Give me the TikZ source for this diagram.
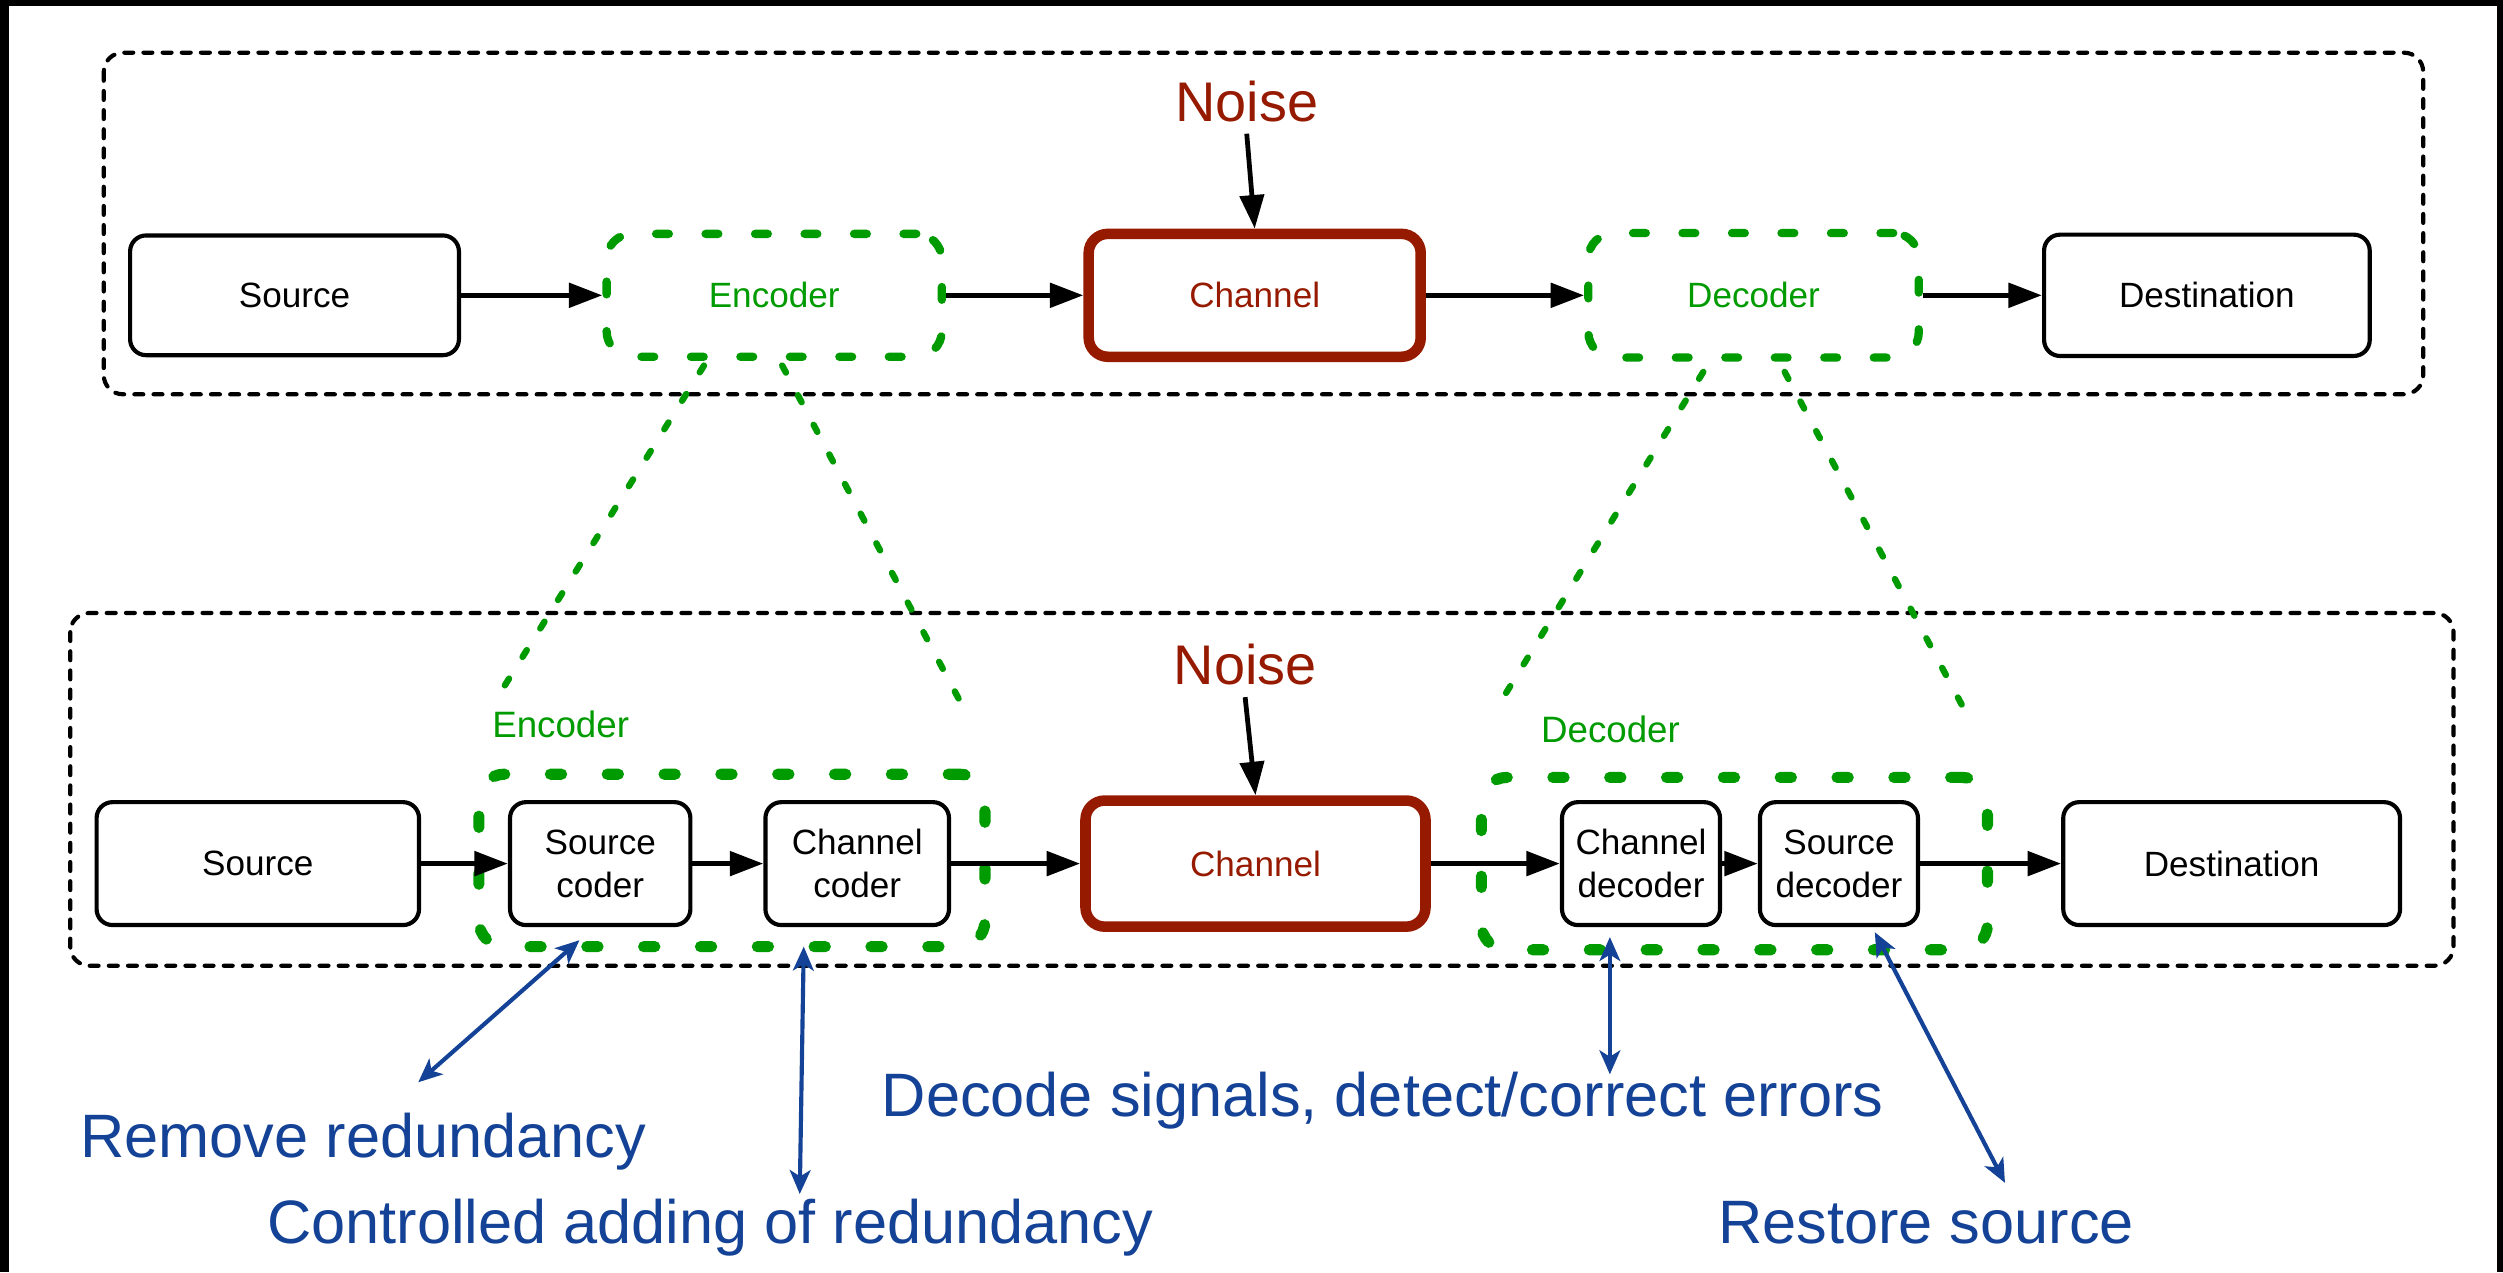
\documentclass[tikz,border=0pt]{standalone}
\usepackage{fontspec}
\setmainfont{Liberation Sans}
\usetikzlibrary{arrows.meta}
\definecolor{cgreen}{RGB}{0,155,0}
\definecolor{cred}{RGB}{150,26,0}
\definecolor{cblue}{RGB}{20,66,150}
\begin{document}
\begin{tikzpicture}[x=0.5pt,y=-0.5pt,
  box/.style={draw=black,line width=1.3pt,rounded corners=5pt,fill=white,inner sep=0pt,align=center,font=\fontsize{11}{13.5}\selectfont},
  chan/.style={draw=cred,line width=3.3pt,rounded corners=6pt,fill=white,inner sep=0pt,text=cred,font=\fontsize{11}{13.5}\selectfont},
  gtop/.style={draw=cgreen,line width=2.6pt,rounded corners=8pt,dash pattern=on 4pt off 11.5pt,line cap=round,inner sep=0pt,text=cgreen,font=\fontsize{11}{13.5}\selectfont},
  gbot/.style={draw=cgreen,line width=3.5pt,rounded corners=8pt,dash pattern=on 3.5pt off 14.3pt,line cap=round,inner sep=0pt},
  glbl/.style={text=cgreen,inner sep=0pt,font=\fontsize{11.5}{13.5}\selectfont},
  obox/.style={draw=black,line width=1.3pt,dash pattern=on 2.8pt off 3.2pt,line cap=round,rounded corners=6pt},
  funnel/.style={draw=cgreen,line width=2pt,dash pattern=on 2.5pt off 8pt,line cap=round},
  arr/.style={-{Triangle[length=10.5pt,width=7.5pt]},line width=1.7pt},
  barr/.style={{Stealth[length=7.5pt,width=6.5pt,inset=2pt]}-{Stealth[length=7.5pt,width=6.5pt,inset=2pt]},line width=1.3pt,draw=cblue},
  noise/.style={text=cred,inner sep=3.5pt,font=\fontsize{17.5}{20}\selectfont},
  lbl/.style={text=cblue,inner sep=0pt,font=\fontsize{19.2}{22}\selectfont}
]
\useasboundingbox (0,0) rectangle (1568,797);
\fill[white] (0,0) rectangle (1568,797);
% frame
\fill[black] (0,0) rectangle (5.6,797);
\fill[black] (0,0) rectangle (1568,3.8);
\fill[black] (1564.2,0) rectangle (1568,797);

% outer dashed groups
\draw[obox] (65,33) rectangle (1518,247);
\draw[obox] (44,384) rectangle (1537,605);

% funnel lines
\coordinate (f1a) at (441,229); \coordinate (f1b) at (309,441);
\coordinate (f2a) at (490,229); \coordinate (f2b) at (606,448);
\coordinate (f3a) at (1067,233); \coordinate (f3b) at (938,443);
\coordinate (f4a) at (1118,233); \coordinate (f4b) at (1234,451);
\draw[funnel] (f1a) -- (f1b);
\draw[funnel] (f2a) -- (f2b);
\draw[funnel] (f3a) -- (f3b);
\draw[funnel] (f4a) -- (f4b);

% top row
\node[box,minimum width=103pt,minimum height=37.5pt] (src1) at (184.5,185) {Source};
\node[gtop,minimum width=105pt,minimum height=38.5pt] (enc1) at (485,185) {Encoder};
\node[chan,minimum width=104pt,minimum height=38.5pt] (ch1) at (786,185) {Channel};
\node[gtop,minimum width=103.5pt,minimum height=39pt] (dec1) at (1098.5,185) {Decoder};
\node[box,minimum width=102pt,minimum height=38pt] (dst1) at (1382.5,185) {Destination};
\node[noise,anchor=base] (noise1) at (781,76) {Noise};

\draw[arr] (src1) -- (enc1);
\draw[arr] (enc1) -- (ch1);
\draw[arr] (ch1) -- (dec1);
\draw[arr] (dec1) -- (dst1);
\draw[arr,line width=1.5pt] (noise1.south) -- (ch1.north);

% bottom row
\node[gbot,minimum width=158.5pt,minimum height=54pt] (enc2) at (458.5,539) {};
\node[gbot,minimum width=158.5pt,minimum height=54pt] (dec2) at (1086.5,541) {};
\node[glbl,anchor=base west] (enc2l) at (308,462) {Encoder};
\node[glbl,anchor=base west] (dec2l) at (965,465) {Decoder};

\node[box,minimum width=101pt,minimum height=38.5pt] (src2) at (161.5,541) {Source};
\node[box,minimum width=56.5pt,minimum height=38.5pt] (scod) at (376,541) {Source\\coder};
\node[box,minimum width=57.5pt,minimum height=38.5pt] (ccod) at (537,541) {Channel\\coder};
\node[chan,minimum width=106.5pt,minimum height=39.5pt] (ch2) at (786.5,541) {Channel};
\node[box,minimum width=49.5pt,minimum height=38.5pt] (cdec) at (1028,541) {Channel\\decoder};
\node[box,minimum width=49.5pt,minimum height=38.5pt] (sdec) at (1152,541) {Source\\decoder};
\node[box,minimum width=105.5pt,minimum height=38.5pt] (dst2) at (1398,541) {Destination};
\node[noise,anchor=base] (noise2) at (780,429) {Noise};

\draw[arr] (src2) -- (scod);
\draw[arr] (scod) -- (ccod);
\draw[arr] (ccod) -- (ch2);
\draw[arr] (ch2) -- (cdec);
\draw[arr] (cdec) -- (sdec);
\draw[arr] (sdec) -- (dst2);
\draw[arr,line width=1.5pt] (noise2.south) -- (ch2.north);

% annotations
\coordinate (b1a) at (363,589); \coordinate (b1b) at (262,678);
\coordinate (b2a) at (503.5,593); \coordinate (b2b) at (501,748);
\coordinate (b3a) at (1008.5,587); \coordinate (b3b) at (1008.5,673);
\coordinate (b4a) at (1174.5,584); \coordinate (b4b) at (1256,741);
\draw[barr] (b1a) -- (b1b);
\draw[barr] (b2a) -- (b2b);
\draw[barr] (b3a) -- (b3b);
\draw[barr] (b4a) -- (b4b);

\node[lbl,anchor=base west] (t1) at (50,725) {Remove redundancy};
\node[lbl,anchor=base west] (t2) at (167,779) {Controlled adding of redundancy};
\node[lbl,anchor=base west] (t3) at (552,699.5) {Decode signals, detect/correct errors};
\node[lbl,anchor=base west] (t4) at (1076,779) {Restore source};
\end{tikzpicture}
\end{document}
